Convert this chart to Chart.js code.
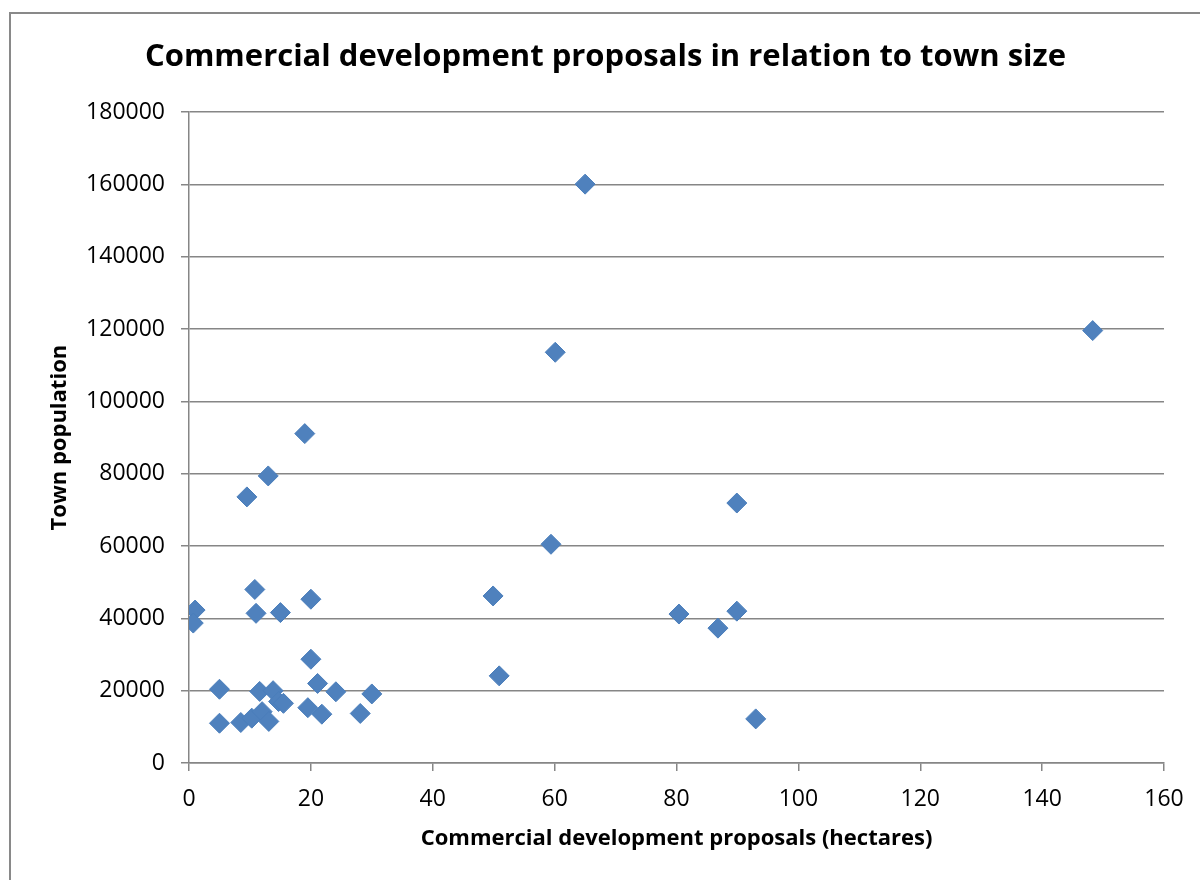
<!DOCTYPE html>
<html>
<head>
<meta charset="utf-8">
<script src="https://cdn.jsdelivr.net/npm/chart.js@4.4.1/dist/chart.umd.min.js"></script>
<style>
  html, body { margin: 0; padding: 0; background: #fff; }
  #frame { position: absolute; left: 9px; top: 12px; width: 1200px; height: 900px; border-left: 2px solid #898989; border-top: 2px solid #898989; box-sizing: border-box; }
  #wrap { position: absolute; left: 0; top: 0; width: 1200px; height: 880px; }
</style>
</head>
<body>
<div id="frame"></div>
<div id="wrap"><canvas id="c" width="1200" height="880"></canvas></div>
<script>
// Data
const hectares = [1, 0.7, 10.8, 11, 15, 20, 20, 21.1, 24.1, 30, 28.1, 21.8, 19.5, 5, 5, 8.5, 10.3, 12, 13.1, 11.6, 13.8, 14.7, 15.5, 19, 13, 9.5, 65, 60.1, 148.3, 89.9, 59.4, 49.9, 80.4, 89.9, 86.8, 50.9, 93];
const population = [42300, 38700, 48000, 41400, 41600, 45300, 28700, 22000, 19700, 19100, 13700, 13500, 15300, 20400, 11000, 11200, 12400, 14200, 11500, 19800, 20000, 17000, 16500, 91100, 79400, 73600, 160100, 113600, 119600, 71900, 60500, 46200, 41200, 42000, 37300, 24100, 12200];
const xTicks = [0, 20, 40, 60, 80, 100, 120, 140, 160];
const yTicks = [0, 20000, 40000, 60000, 80000, 100000, 120000, 140000, 160000, 180000];

const titleText = 'Commercial development proposals in relation to town size';
const xTitle = 'Commercial development proposals (hectares)';
const yTitle = 'Town population';

const points = hectares.map((h, i) => ({ x: h, y: population[i] }));
const FONT = "'Open Sans', 'Liberation Sans', sans-serif";

new Chart(document.getElementById('c'), {
  type: 'scatter',
  data: {
    datasets: [{
      label: 'Town population',
      data: points,
      pointStyle: 'rectRot',
      pointRadius: 10,
      pointHoverRadius: 10,
      backgroundColor: '#4F81BD',
      borderColor: '#4A7EBB',
      borderWidth: 1
    }]
  },
  options: {
    responsive: false,
    animation: false,
    devicePixelRatio: 1,
    layout: { padding: { left: 47, right: 36, top: 0, bottom: 28 } },
    plugins: {
      legend: { display: false },
      tooltip: { enabled: false },
      title: {
        display: true,
        text: titleText,
        color: '#000',
        font: { family: FONT, size: 31, weight: 'bold', lineHeight: 1.2 },
        padding: { top: 39, bottom: 36 }
      }
    },
    scales: {
      x: {
        type: 'linear',
        min: 0, max: 160,
        afterBuildTicks: (s) => { s.ticks = xTicks.map(v => ({ value: v })); },
        afterFit: (s) => { s.height = 89; },
        ticks: { color: '#000', font: { family: FONT, size: 23 }, padding: 15, maxRotation: 0 },
        grid: { display: true, drawOnChartArea: false, drawTicks: true, tickLength: 8, color: '#868686', lineWidth: 1.5 },
        border: { display: true, color: '#868686', width: 1.5 },
        title: { display: true, text: xTitle, color: '#000', font: { family: FONT, size: 22, weight: 'bold', lineHeight: 1.2 }, padding: 0 }
      },
      y: {
        type: 'linear',
        min: 0, max: 180000,
        afterBuildTicks: (s) => { s.ticks = yTicks.map(v => ({ value: v })); },
        afterFit: (s) => { s.width = 142; },
        ticks: { color: '#000', font: { family: FONT, size: 23 }, padding: 16, callback: (v) => String(v) },
        grid: { display: true, drawOnChartArea: true, drawTicks: true, tickLength: 8, color: '#868686', lineWidth: 1.5 },
        border: { display: true, color: '#868686', width: 1.5 },
        title: { display: true, text: yTitle, color: '#000', font: { family: FONT, size: 22, weight: 'bold', lineHeight: 1.2 }, padding: 0 }
      }
    }
  }
});
</script>
</body>
</html>
